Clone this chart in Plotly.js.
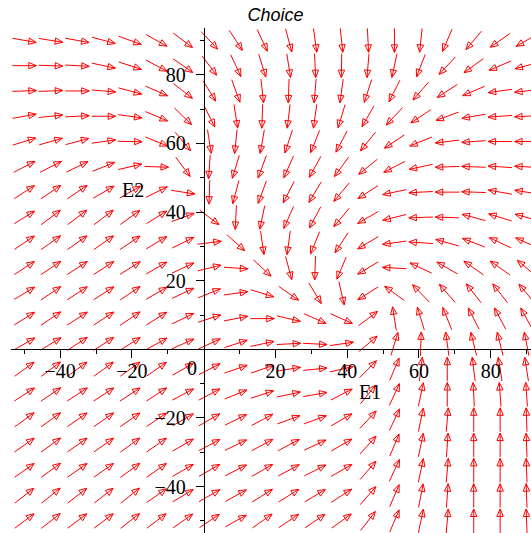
<!DOCTYPE html>
<html>
<head>
<meta charset="utf-8">
<script src="https://cdn.plot.ly/plotly-3.0.1.min.js"></script>
<style>
  html, body { margin: 0; padding: 0; background: #ffffff; }
  #chart { width: 531px; height: 533px; }
</style>
</head>
<body>
<div id="chart"></div>
<script>
// Grid of sample points (E1 across, E2 up)
const e1Values = [-50, -42.63, -35.26, -27.89, -20.53, -13.16, -5.79, 1.58, 8.95, 16.32,
                  23.68, 31.05, 38.42, 45.79, 53.16, 60.53, 67.89, 75.26, 82.63, 90];
const e2Values = [-50, -42.63, -35.26, -27.89, -20.53, -13.16, -5.79, 1.58, 8.95, 16.32,
                  23.68, 31.05, 38.42, 45.79, 53.16, 60.53, 67.89, 75.26, 82.63, 90];

// Direction of the field at each grid point, degrees (0 = +E1, 90 = +E2),
// one list per E2 row, ordered by E1.
const dirRow00 = [37, 38, 37, 37, 38, 37, 35, 34, 29, 35, 34, 34, 36, 52, 67, 78, 85, 90, 90, 92];
const dirRow01 = [38, 39, 38, 38, 39, 35, 31, 30, 29, 32, 32, 31, 33, 49, 67, 79, 86, 90, 90, 92];
const dirRow02 = [35, 36, 35, 35, 36, 35, 30, 30, 27, 30, 28, 27, 30, 49, 65, 78, 85, 90, 90, 92];
const dirRow03 = [35, 36, 35, 35, 36, 35, 30, 28, 26, 28, 28, 25, 30, 48, 67, 78, 86, 90, 90, 92];
const dirRow04 = [36, 36, 35, 35, 35, 34, 30, 30, 26, 28, 20, 20, 30, 47, 65, 78, 85, 90, 90, 92];
const dirRow05 = [33, 34, 33, 33, 33, 33, 28, 28, 22, 18, 12, 10, 27, 51, 65, 78, 90, 93, 94, 94];
const dirRow06 = [36, 37, 36, 36, 36, 35, 30, 27, 19, 19, 9, 6, 13, 45, 67, 83, 90, 97, 99, 99];
const dirRow07 = [30, 31, 33, 33, 32, 29, 24, 25, 18, 12, 3, -3, 8, 40, 73, 88, 98, 104, 104, 101];
const dirRow08 = [32, 34, 33, 33, 34, 32, 26, 18, 11, 0, -13, -24, -24, 37, 99, 107, 112, 117, 118, 119];
const dirRow09 = [31, 34, 33, 33, 34, 30, 25, 22, 8, -17, -35, -59, -77, -148, 144, 134, 131, 128, 128, 130];
const dirRow10 = [33, 34, 33, 33, 32, 30, 25, 14, -4, -43, -75, -92, -113, -149, 177, 155, 150, 145, 145, 140];
const dirRow11 = [34, 35, 35, 35, 34, 31, 26, 7, -42, -82, -98, -112, -123, -149, -172, 176, 164, 159, 155, 156];
const dirRow12 = [32, 37, 37, 37, 36, 32, 20, -37, -93, -102, -114, -118, -130, -150, -166, -178, 178, 165, 163, 164];
const dirRow13 = [33, 34, 34, 30, 30, 26, -9, -92, -105, -110, -117, -121, -130, -147, -168, -177, 180, 178, 170, 171];
const dirRow14 = [27, 27, 26, 22, 13, -2, -53, -94, -107, -110, -114, -119, -126, -141, -153, -168, -178, 178, 176, 177];
const dirRow15 = [17, 16, 15, 8, -1, -22, -50, -81, -96, -100, -108, -112, -118, -129, -146, -158, -173, -176, 180, 180];
const dirRow16 = [10, 6, 3, 0, -8, -23, -44, -63, -81, -92, -97, -98, -107, -120, -133, -147, -160, -170, -176, -177];
const dirRow17 = [2, 2, 0, -5, -15, -24, -38, -58, -70, -84, -92, -95, -98, -108, -117, -131, -147, -157, -172, -174];
const dirRow18 = [0, -2, -3, -12, -18, -28, -35, -53, -65, -73, -81, -87, -91, -95, -102, -111, -133, -144, -157, -165];
const dirRow19 = [-10, -9, -10, -15, -20, -29, -37, -47, -57, -65, -75, -82, -84, -87, -90, -96, -113, -130, -145, -150];

const dirRows = [dirRow00, dirRow01, dirRow02, dirRow03, dirRow04, dirRow05, dirRow06, dirRow07,
                 dirRow08, dirRow09, dirRow10, dirRow11, dirRow12, dirRow13, dirRow14, dirRow15,
                 dirRow16, dirRow17, dirRow18, dirRow19];

// Axis ticks
const xMajorTicks = [-40, -20, 20, 40, 60, 80];
const yMajorTicks = [-40, -20, 20, 40, 60, 80];
const minorTicks = [-50, -30, -10, 10, 30, 50, 70, 90];

// Page geometry
const W = 531, H = 533;
const margin = { l: 11, r: 0, t: 28, b: 0 };
const xRange = [-53.72, 91.23];
const yRange = [-53.5, 93.6];
const plotW = W - margin.l - margin.r;
const plotH = H - margin.t - margin.b;
const pxPerX = plotW / (xRange[1] - xRange[0]);
const pxPerY = plotH / (yRange[1] - yRange[0]);

// Arrow glyph size in screen pixels
const arrowLen = 24, headLen = 7.5, headHalf = 3.2;

const ax = [], ay = [];
function pushPt(px, py) { ax.push(px); ay.push(py); }
dirRows.forEach((row, j) => {
  row.forEach((deg, i) => {
    const cx = e1Values[i], cy = e2Values[j];
    const t = deg * Math.PI / 180;
    const ux = Math.cos(t), uy = Math.sin(t);      // screen direction, up positive
    const toX = d => d / pxPerX, toY = d => d / pxPerY;
    const tailX = cx - toX(ux * arrowLen / 2), tailY = cy - toY(uy * arrowLen / 2);
    const tipX = cx + toX(ux * arrowLen / 2), tipY = cy + toY(uy * arrowLen / 2);
    // shaft
    pushPt(tailX, tailY); pushPt(tipX, tipY); pushPt(null, null);
    // open triangular head
    const bx = ux * (arrowLen / 2 - headLen), by = uy * (arrowLen / 2 - headLen);
    const c1x = cx + toX(bx - uy * headHalf), c1y = cy + toY(by + ux * headHalf);
    const c2x = cx + toX(bx + uy * headHalf), c2y = cy + toY(by - ux * headHalf);
    pushPt(tipX, tipY); pushPt(c1x, c1y); pushPt(c2x, c2y); pushPt(tipX, tipY); pushPt(null, null);
  });
});

const arrows = {
  type: 'scatter', mode: 'lines', x: ax, y: ay,
  line: { color: '#ff0000', width: 1 },
  connectgaps: false, hoverinfo: 'skip', showlegend: false
};

const tickFont = { family: 'Liberation Serif, Times New Roman, serif', size: 20, color: '#000000' };

const layout = {
  width: W, height: H, margin: margin,
  paper_bgcolor: '#ffffff', plot_bgcolor: '#ffffff',
  showlegend: false,
  title: {
    text: '<i>Choice</i>',
    font: { family: 'Liberation Sans, Arial, sans-serif', size: 18, color: '#000000' },
    x: 275.5 / W, xref: 'container', xanchor: 'center',
    y: 1 - 15 / H, yref: 'container', yanchor: 'middle'
  },
  xaxis: {
    range: xRange, anchor: 'free',
    position: (0 - yRange[0]) / (yRange[1] - yRange[0]),
    showline: true, linecolor: '#000000', linewidth: 1,
    showgrid: false, zeroline: false,
    ticks: 'outside', ticklen: 8, tickwidth: 1, tickcolor: '#000000',
    tickmode: 'array', tickvals: xMajorTicks, ticktext: xMajorTicks.map(v => v < 0 ? '\u2212' + (-v) : String(v)),
    minor: { tickmode: 'array', tickvals: minorTicks, ticks: 'outside', ticklen: 4, tickwidth: 1, tickcolor: '#000000' },
    tickfont: tickFont, ticklabelstandoff: -4, fixedrange: true
  },
  yaxis: {
    range: yRange, anchor: 'free',
    position: (0 - xRange[0]) / (xRange[1] - xRange[0]),
    showline: true, linecolor: '#000000', linewidth: 1,
    showgrid: false, zeroline: false,
    ticks: 'outside', ticklen: 8, tickwidth: 1, tickcolor: '#000000',
    tickmode: 'array', tickvals: yMajorTicks, ticktext: yMajorTicks.map(v => v < 0 ? '\u2212' + (-v) : String(v)),
    minor: { tickmode: 'array', tickvals: minorTicks, ticks: 'outside', ticklen: 4, tickwidth: 1, tickcolor: '#000000' },
    tickfont: tickFont, ticklabelstandoff: 6, fixedrange: true
  },
  annotations: [
    { text: '0', x: 0, y: 0, xref: 'x', yref: 'y', showarrow: false,
      xshift: -11.5, yshift: -19, xanchor: 'center', yanchor: 'middle', font: tickFont },
    { text: 'E1', x: 46.4, y: -12.4, xref: 'x', yref: 'y', showarrow: false,
      xanchor: 'center', yanchor: 'middle', font: tickFont },
    { text: 'E2', x: -19.8, y: 46.5, xref: 'x', yref: 'y', showarrow: false,
      xanchor: 'center', yanchor: 'middle', font: tickFont }
  ]
};

Plotly.newPlot('chart', [arrows], layout, { staticPlot: true, displayModeBar: false });
</script>
</body>
</html>
